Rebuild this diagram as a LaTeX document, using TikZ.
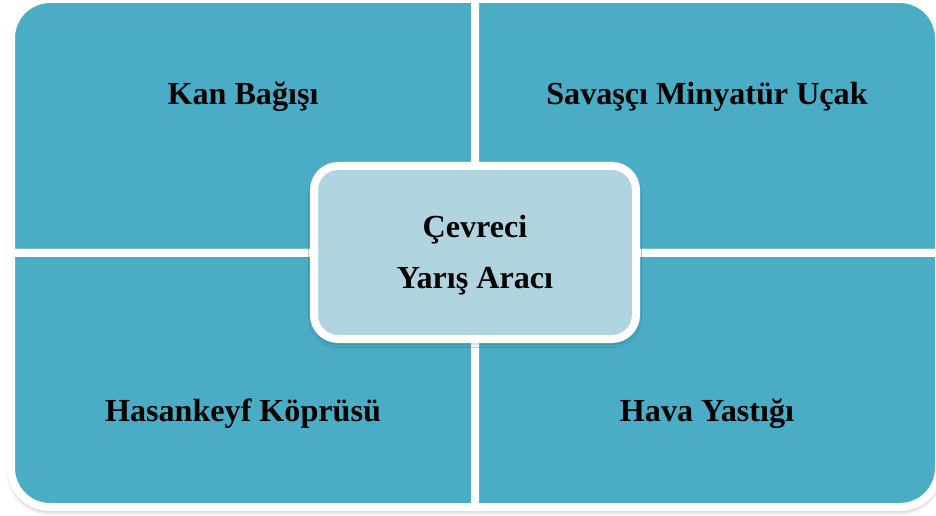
\documentclass[tikz,border=0pt]{standalone}
\usepackage{fontspec}
\setmainfont{Liberation Serif}
\usetikzlibrary{shadows.blur}

\definecolor{tile}{RGB}{75,172,198}
\definecolor{hub}{RGB}{176,212,224}

\tikzset{
  tilebox/.style={fill=tile, draw=white, line width=6pt, line join=miter},
  hubbox/.style={fill=hub, draw=white, line width=6pt, rounded corners=18pt},
  label/.style={anchor=base, text=black, inner sep=0pt,
    font=\bfseries\fontsize{24.1}{28}\selectfont},
  softshadow/.style={blur shadow={shadow xshift=0pt, shadow yshift=-2.5pt,
    shadow blur radius=4pt, shadow opacity=40}}
}

\begin{document}
\begin{tikzpicture}[x=0.75pt, y=0.75pt]
  \useasboundingbox (0,0) rectangle (936,515);

  % shadow under the whole matrix outline
  \path[softshadow, fill=white, rounded corners=29pt] (11,8) rectangle (939,516);

  % four quadrants, rounded only on their outer corner
  \path[tilebox] (475,262) -- (11,262) -- (11,477)
      arc[start angle=180, end angle=90, radius=39] -- (475,516) -- cycle;
  \path[tilebox] (475,262) -- (475,516) -- (900,516)
      arc[start angle=90, end angle=0, radius=39] -- (939,262) -- cycle;
  \path[tilebox] (475,262) -- (475,8) -- (50,8)
      arc[start angle=270, end angle=180, radius=39] -- (11,262) -- cycle;
  \path[tilebox] (475,262) -- (939,262) -- (939,47)
      arc[start angle=0, end angle=-90, radius=39] -- (475,8) -- cycle;

  % quadrant labels
  \node[label] (q1) at (243,410) {Kan Bağışı};
  \node[label] (q2) at (707,410) {Savaşçı Minyatür Uçak};
  \node[label] (q3) at (243,94) {Hasankeyf Köprüsü};
  \node[label] (q4) at (707,94) {Hava Yastığı};

  % central box
  \path[hubbox, softshadow] (314,176) rectangle (636,349);
  \node[label] (c1) at (475,277) {Çevreci};
  \node[label] (c2) at (475,227) {Yarış Aracı};
\end{tikzpicture}
\end{document}
